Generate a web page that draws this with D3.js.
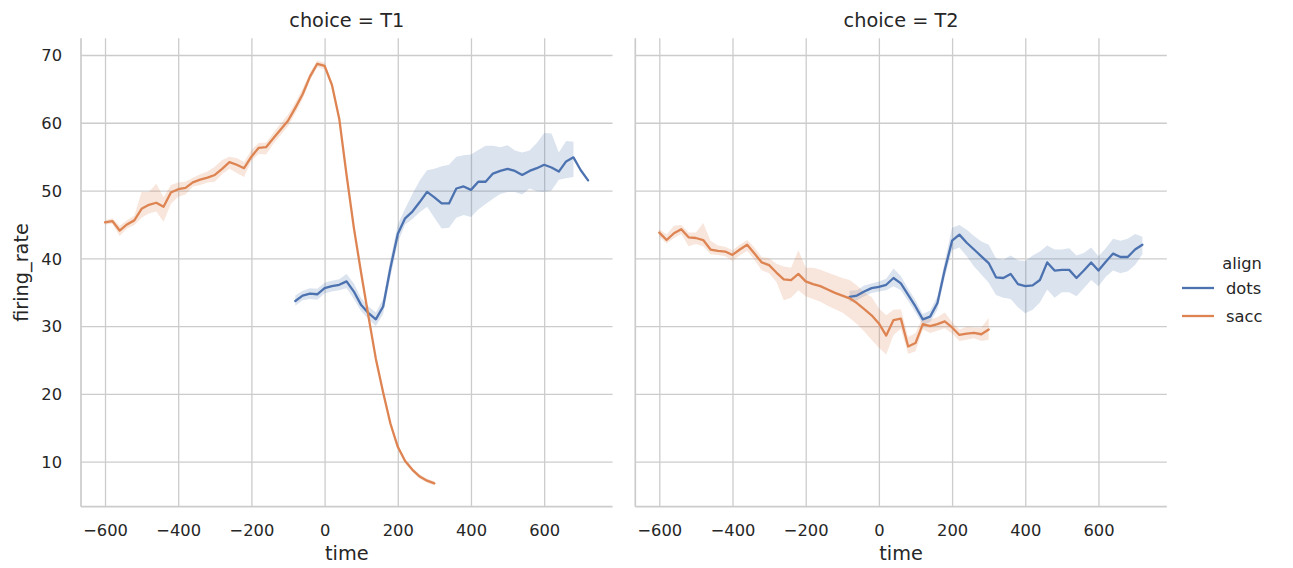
<!DOCTYPE html>
<html>
<head>
<meta charset="utf-8">
<script src="https://cdn.jsdelivr.net/npm/d3@7"></script>
<style>
  html, body { margin: 0; padding: 0; background: #ffffff; }
  svg { display: block; font-family: "DejaVu Sans", sans-serif; }
</style>
</head>
<body>
<svg id="chart" width="1293" height="568"></svg>
<script>
// Facet columns and hue levels
const choices = ["T1", "T2"];
const aligns = ["dots", "sacc"];
const alignColors = ["#4c72b0", "#dd8452"];

// Tick values
const xTicks = [-600, -400, -200, 0, 200, 400, 600];
const yTicks = [10, 20, 30, 40, 50, 60, 70];

// Time grids (ms)
const timeSacc = d3.range(-600, 301, 20);
const timeDots = d3.range(-80, 721, 20);

// choice = T1, align = sacc
const t1SaccMean = [45.3, 45.5, 44.1, 45.0, 45.6, 47.3, 47.9, 48.2, 47.6, 49.7,
  50.2, 50.4, 51.2, 51.6, 51.9, 52.3, 53.2, 54.2, 53.8, 53.3,
  55.0, 56.3, 56.4, 57.7, 59.0, 60.3, 62.2, 64.2, 66.8, 68.7,
  68.4, 65.6, 60.6, 52.3, 44.5, 37.8, 31.4, 25.2, 20.2, 15.6,
  12.2, 10.1, 8.8, 7.8, 7.2, 6.8];
const t1SaccLo = [45.0, 45.1, 43.3, 44.4, 44.9, 46.0, 46.6, 46.9, 45.4, 48.0,
  49.1, 49.4, 50.6, 50.8, 51.2, 51.3, 52.4, 53.2, 52.6, 52.0,
  54.4, 55.4, 55.3, 56.9, 58.2, 59.5, 61.4, 63.5, 66.2, 68.2,
  67.9, 65.1, 60.1, 51.8, 44.0, 37.3, 31.0, 24.8, 19.8, 15.2,
  11.8, 9.8, 8.5, 7.5, 6.9, 6.5];
const t1SaccHi = [45.6, 45.9, 44.8, 45.6, 46.3, 49.8, 49.8, 51.0, 49.0, 50.8,
  51.2, 51.3, 51.9, 52.4, 52.8, 53.5, 54.5, 55.0, 54.8, 54.2,
  56.0, 57.0, 57.1, 58.5, 59.9, 61.2, 63.0, 65.0, 67.4, 69.2,
  68.9, 66.1, 61.1, 52.8, 45.0, 38.3, 31.8, 25.6, 20.6, 16.0,
  12.6, 10.4, 9.1, 8.1, 7.5, 7.1];

// choice = T1, align = dots
const t1DotsMean = [33.7, 34.5, 34.8, 34.7, 35.6, 35.9, 36.1, 36.6, 35.1, 33.1,
  31.9, 31.0, 32.9, 38.6, 43.6, 45.9, 46.9, 48.3, 49.8, 49.0,
  48.1, 48.1, 50.3, 50.6, 50.1, 51.3, 51.3, 52.5, 52.9, 53.2,
  52.9, 52.3, 52.9, 53.3, 53.8, 53.4, 52.8, 54.3, 54.9, 53.0,
  51.5];
const t1DotsLo = [33.0, 33.8, 34.0, 33.9, 34.8, 35.1, 35.3, 35.6, 34.0, 32.2,
  31.0, 30.0, 31.8, 37.3, 42.3, 45.0, 45.8, 46.8, 47.6, 46.0,
  44.4, 44.5, 46.0, 46.4, 46.1, 47.2, 48.0, 48.8, 49.5, 49.8,
  49.8, 49.4, 50.3, 49.9, 49.8, 50.0, 51.6, 51.8, 52.0, null,
  null];
const t1DotsHi = [34.5, 35.2, 35.6, 35.5, 36.4, 36.7, 36.9, 37.7, 36.3, 34.1,
  32.9, 32.0, 34.0, 39.9, 45.0, 47.3, 49.5, 51.5, 53.0, 53.2,
  53.6, 53.8, 55.0, 55.2, 55.3, 56.0, 56.6, 56.6, 56.4, 56.7,
  55.9, 55.6, 55.9, 57.0, 58.5, 58.4, 55.6, 57.3, 57.2, null,
  null];

// choice = T2, align = sacc
const t2SaccMean = [43.8, 42.7, 43.7, 44.3, 43.1, 43.0, 42.7, 41.3, 41.1, 41.0,
  40.5, 41.3, 42.0, 40.7, 39.4, 39.0, 37.9, 36.9, 36.8, 37.7,
  36.6, 36.2, 35.9, 35.4, 34.9, 34.5, 34.1, 33.4, 32.5, 31.6,
  30.4, 28.6, 30.9, 31.1, 27.0, 27.5, 30.3, 30.0, 30.3, 30.7,
  29.8, 28.7, 28.9, 29.0, 28.8, 29.5];
const t2SaccLo = [43.2, 42.2, 43.0, 43.6, 41.8, 42.1, 41.8, 40.6, 40.5, 40.3,
  39.6, 40.4, 41.1, 39.8, 38.2, 37.8, 36.5, 33.8, 34.2, 35.3,
  34.4, 34.0, 33.6, 33.0, 32.5, 32.0, 31.2, 30.3, 29.2, 28.0,
  26.8, 25.8, 28.7, 29.6, 25.9, 26.3, 29.5, 29.0, 29.3, 29.7,
  28.9, 27.8, 28.0, 28.2, 27.8, 28.0];
const t2SaccHi = [44.3, 43.5, 44.8, 44.9, 43.8, 43.8, 45.2, 42.6, 41.9, 41.7,
  41.2, 42.0, 42.7, 41.6, 40.2, 40.0, 39.2, 38.8, 38.6, 41.2,
  38.6, 38.6, 38.3, 37.9, 37.5, 37.1, 36.8, 36.0, 35.0, 34.3,
  32.6, 31.6, 32.4, 32.5, 28.4, 29.0, 31.3, 31.0, 31.3, 32.0,
  30.6, 29.5, 29.9, 29.8, 29.8, 31.2];

// choice = T2, align = dots
const t2DotsMean = [34.3, 34.5, 35.1, 35.6, 35.8, 36.1, 37.1, 36.3, 34.6, 32.9,
  31.0, 31.4, 33.4, 38.3, 42.6, 43.5, 42.3, 41.3, 40.3, 39.3,
  37.2, 37.1, 37.7, 36.2, 35.9, 36.0, 36.8, 39.4, 38.2, 38.3,
  38.3, 37.1, 38.2, 39.4, 38.2, 39.5, 40.7, 40.2, 40.2, 41.3,
  42.0];
const t2DotsLo = [33.6, 33.8, 34.4, 34.9, 35.1, 35.3, 35.9, 35.3, 33.7, 32.0,
  30.2, 30.6, 32.4, 37.2, 41.2, 41.6, 40.3, 38.8, 37.6, 36.4,
  34.6, 34.2, 34.0, 32.8, 31.9, 32.4, 33.5, 35.4, 34.2, 35.0,
  35.0, 34.4, 35.6, 36.8, 35.9, 37.3, 38.2, 37.8, 38.1, 39.0,
  40.6];
const t2DotsHi = [35.2, 35.3, 36.0, 36.3, 36.6, 37.0, 38.5, 37.4, 35.5, 33.8,
  31.8, 32.3, 34.4, 39.5, 44.5, 44.9, 44.2, 43.3, 42.5, 42.0,
  40.0, 39.8, 40.4, 39.7, 39.6, 40.4, 41.0, 41.9, 41.3, 41.3,
  41.5, 40.4, 40.8, 41.6, 40.3, 41.5, 42.9, 42.6, 42.9, 43.6,
  43.2];

// Assemble per-facet, per-hue series
function series(times, mean, lo, hi) {
  return times.map((t, i) => ({ t, m: mean[i], lo: lo[i], hi: hi[i] }));
}
const facets = [
  { choice: choices[0], data: [series(timeDots, t1DotsMean, t1DotsLo, t1DotsHi),
                               series(timeSacc, t1SaccMean, t1SaccLo, t1SaccHi)] },
  { choice: choices[1], data: [series(timeDots, t2DotsMean, t2DotsLo, t2DotsHi),
                               series(timeSacc, t2SaccMean, t2SaccLo, t2SaccHi)] }
];

const svg = d3.select("#chart");
const textColor = "#262626";
const gridColor = "#cccccc";
const tickFont = 16.3;
const labelFont = 19.3;

const plotTop = 38.3, plotBottom = 506.7;
const panelLefts = [81, 635.3];
const panelWidth = 531.5;

const y = d3.scaleLinear().domain([3.36, 72.46]).range([plotBottom, plotTop]);

facets.forEach((f, fi) => {
  const x0 = panelLefts[fi];
  const x = d3.scaleLinear().domain([-665.6, 786.7]).range([x0, x0 + panelWidth]);
  const g = svg.append("g");

  // Grid lines
  const xAxis = d3.axisBottom(x).tickValues(xTicks).tickSize(-(plotBottom - plotTop)).tickPadding(8)
    .tickFormat(d3.format("d"));
  const gx = g.append("g").attr("transform", `translate(0,${plotBottom})`).call(xAxis);
  gx.select(".domain").remove();
  gx.selectAll(".tick line").attr("stroke", gridColor).attr("stroke-width", 1.3);
  gx.selectAll(".tick text").attr("fill", textColor).attr("font-size", tickFont)
    .attr("font-family", "DejaVu Sans").attr("y", 23.5).attr("dy", "0.36em");

  const yAxis = d3.axisLeft(y).tickValues(yTicks).tickSize(-panelWidth).tickPadding(19);
  const gy = g.append("g").attr("transform", `translate(${x0},0)`).call(yAxis);
  gy.select(".domain").remove();
  gy.selectAll(".tick line").attr("stroke", gridColor).attr("stroke-width", 1.3);
  gy.selectAll(".tick text").attr("fill", textColor).attr("font-size", tickFont)
    .attr("font-family", "DejaVu Sans").attr("dy", "0.36em");
  if (fi > 0) gy.selectAll(".tick text").remove();

  // Spines (left and bottom)
  g.append("line").attr("x1", x0).attr("x2", x0).attr("y1", plotTop).attr("y2", plotBottom)
    .attr("stroke", gridColor).attr("stroke-width", 1.7);
  g.append("line").attr("x1", x0).attr("x2", x0 + panelWidth).attr("y1", plotBottom).attr("y2", plotBottom)
    .attr("stroke", gridColor).attr("stroke-width", 1.7);

  // Confidence bands then mean lines, per hue
  f.data.forEach((s, si) => {
    const area = d3.area()
      .defined(d => d.lo != null && d.hi != null)
      .x(d => x(d.t)).y0(d => y(d.lo)).y1(d => y(d.hi));
    g.append("path").datum(s).attr("d", area)
      .attr("fill", alignColors[si]).attr("fill-opacity", 0.2).attr("stroke", "none");
  });
  f.data.forEach((s, si) => {
    const line = d3.line().x(d => x(d.t)).y(d => y(d.m));
    g.append("path").datum(s).attr("d", line)
      .attr("fill", "none").attr("stroke", alignColors[si]).attr("stroke-width", 2.3)
      .attr("stroke-linejoin", "round").attr("stroke-linecap", "round");
  });

  // Facet title and x label
  const cx = x0 + panelWidth / 2;
  g.append("text").attr("x", cx).attr("y", 20).attr("dy", "0.36em")
    .attr("text-anchor", "middle").attr("fill", textColor).attr("font-size", labelFont)
    .text(`choice = ${f.choice}`);
  g.append("text").attr("x", cx).attr("y", 553).attr("dy", "0.36em")
    .attr("text-anchor", "middle").attr("fill", textColor).attr("font-size", labelFont)
    .text("time");
});

// Shared y label
svg.append("text")
  .attr("transform", `translate(21,${(plotTop + plotBottom) / 2}) rotate(-90)`)
  .attr("dy", "0.36em").attr("text-anchor", "middle")
  .attr("fill", textColor).attr("font-size", labelFont).text("firing_rate");

// Legend
const lg = svg.append("g");
lg.append("text").attr("x", 1242).attr("y", 263).attr("dy", "0.36em")
  .attr("text-anchor", "middle").attr("fill", textColor).attr("font-size", tickFont).text("align");
aligns.forEach((a, i) => {
  const ly = 288 + i * 28;
  lg.append("line").attr("x1", 1182).attr("x2", 1214).attr("y1", ly).attr("y2", ly)
    .attr("stroke", alignColors[i]).attr("stroke-width", 2.3);
  lg.append("text").attr("x", 1226).attr("y", ly).attr("dy", "0.36em")
    .attr("fill", textColor).attr("font-size", tickFont).text(a);
});
</script>
</body>
</html>
